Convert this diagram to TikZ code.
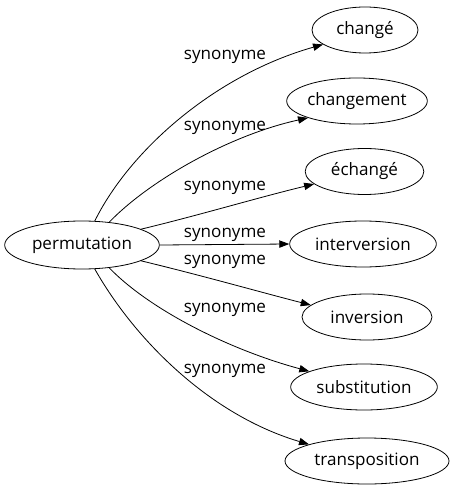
\documentclass[tikz,border=0pt]{standalone}
\usepackage{fontspec}
\setmainfont{Open Sans}
\usetikzlibrary{arrows.meta, positioning, calc, shapes.geometric}
\tikzset{
  word/.style={draw, ellipse, inner sep=0pt, minimum width=#1, minimum height=34.5pt,
    font=\fontsize{12.8}{14}\selectfont, line width=0.6pt},
  arr/.style={-{Triangle[length=7.5pt, width=5.5pt]}, line width=0.6pt},
  lbl/.style={font=\fontsize{12.8}{14}\selectfont},
}

\begin{document}
\begin{tikzpicture}[x=0.75pt, y=-0.75pt]
    \useasboundingbox (0,0) rectangle (452,491);
    \node[word=116pt, minimum height=36pt] (perm) at (82,245) {permutation};
    \node[word=79.5pt] (chge) at (365,30) {changé};
    \node[word=103pt] (chgt) at (357,101) {changement};
    \node[word=89pt] (echg) at (364.5,171.5) {échangé};
    \node[word=110pt] (intv) at (363,244) {interversion};
    \node[word=97.5pt] (invs) at (367,317) {inversion};
    \node[word=110pt] (subs) at (364,387) {substitution};
    \node[word=123pt] (trsp) at (367,461) {transposition};
    % edges
    \draw[arr] (perm.62.5) .. controls (130,150) and (215,75) .. (chge.199);
    \draw[arr] (perm.40.4) .. controls (150,180) and (230,135) .. (chgt.199);
    \draw[arr] (perm.15.8) .. controls (200,215) and (260,197) .. (echg.194.7);
    \draw[arr] (perm.east) -- (intv.west);
    \draw[arr] (perm.-15.4) .. controls (200,275) and (260,292) .. (invs.168);
    \draw[arr] (perm.-40.4) .. controls (150,310) and (230,350) .. (subs.164.5);
    \draw[arr] (perm.-62.5) .. controls (135,340) and (210,415) .. (trsp.164);
    % labels
    \node[lbl] (l1) at (225,57) {synonyme};
    \node[lbl] (l2) at (225,128) {synonyme};
    \node[lbl] (l3) at (225,188) {synonyme};
    \node[lbl] (l4) at (225,235) {synonyme};
    \node[lbl] (l5) at (225,262) {synonyme};
    \node[lbl] (l6) at (225,310) {synonyme};
    \node[lbl] (l7) at (225,371) {synonyme};
\end{tikzpicture}
\end{document}
